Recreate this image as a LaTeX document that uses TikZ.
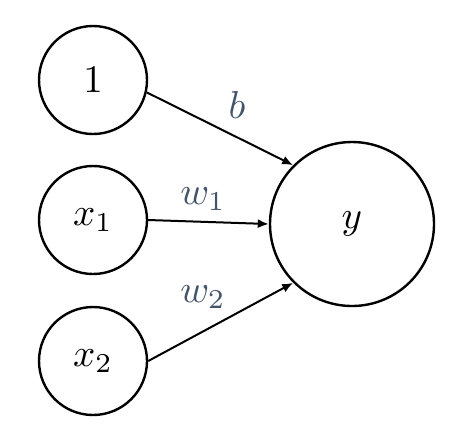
\documentclass[tikz,border=0pt]{standalone}
\usepackage{graphicx}
\usetikzlibrary{arrows.meta}
\definecolor{slate}{HTML}{44546A}
\newcommand{\bigmath}[1]{\scalebox{3.9}{$#1$}}
\begin{document}
\begin{tikzpicture}[x=1pt,y=-1pt,
  neuron/.style={circle,draw=black,line width=2.4pt,fill=white,inner sep=0pt},
  edge/.style={line width=2pt,-{Latex[length=11pt,width=9pt]}},
  wlabel/.style={text=slate}]
\useasboundingbox (0,0) rectangle (462,432);
\node[neuron,minimum size=108pt] (one) at (93,80) {\bigmath{1}};
\node[neuron,minimum size=108pt] (x1) at (93,220) {\bigmath{x_1}};
\node[neuron,minimum size=108pt] (x2) at (93,361) {\bigmath{x_2}};
\node[neuron,minimum size=164pt] (y) at (352,224) {\bigmath{y}};
\draw[edge] (one.-13) -- (y.135);
\draw[edge] (x1.0) -- (y.180);
\draw[edge] (x2.0) -- (y.225);
\node[wlabel] (lb) at (237,105) {\bigmath{b}};
\node[wlabel] (lw1) at (203,199) {\bigmath{w_1}};
\node[wlabel] (lw2) at (203,297) {\bigmath{w_2}};
\end{tikzpicture}
\end{document}
